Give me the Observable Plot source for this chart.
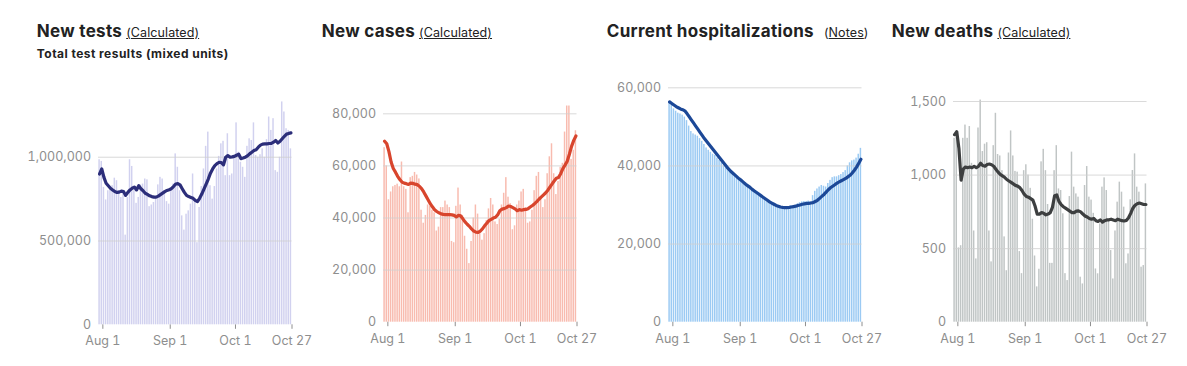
<!DOCTYPE html>
<html><head><meta charset="utf-8">
<script src="https://cdn.jsdelivr.net/npm/d3@7"></script>
<script src="https://cdn.jsdelivr.net/npm/@observablehq/plot@0.6"></script>
<style>
html,body{margin:0;padding:0;background:#fff;}
#root{position:relative;width:1187px;height:366px;overflow:hidden;font-family:Inter,"Noto Sans",sans-serif;}
.title{position:absolute;top:21px;font-weight:700;font-size:17px;letter-spacing:0.3px;line-height:20px;color:#222;white-space:nowrap;}
.note{font-weight:400;font-size:12.5px;letter-spacing:0.1px;color:#222;margin-left:4px;}
.note u{text-decoration:underline;}
.sub{position:absolute;top:47px;font-weight:700;font-size:12px;letter-spacing:0.45px;line-height:14px;color:#222;white-space:nowrap;}
.chart{position:absolute;top:0;}
</style></head><body><div id="root"></div>
<script>
// ---- data ----
const firstDate = "2020-07-31";            // first daily value
const xDomain = ["2020-07-30", "2020-10-27"];
const xTickDates = ["2020-08-01", "2020-09-01", "2020-10-01", "2020-10-27"];
const xTickLabels = ["Aug 1", "Sep 1", "Oct 1", "Oct 27"];

const titles = ["New tests", "New cases", "Current hospitalizations", "New deaths"];
const notes = ["Calculated", "Calculated", "Notes", "Calculated"];
const subtitles = ["Total test results (mixed units)", "", "", ""];

// daily values (thousands) and 7-day averages (thousands)
const testsDailyK = [985,975,820,745,800,810,830,875,860,800,760,795,535,760,985,945,800,725,760,835,840,870,865,705,715,730,760,835,880,870,800,735,720,800,840,1020,940,800,650,565,660,680,720,900,745,490,700,825,930,1065,1150,830,750,825,930,1005,1080,1095,890,1140,890,900,1010,1205,1030,970,940,880,1065,1110,1100,1205,1010,1000,1015,1050,1000,1105,1240,1160,1230,920,910,1000,1330,1270,1170,1160,1050];
const testsAvgK = [900,930,880,845,830,815,805,795,790,792,798,795,772,790,805,815,822,805,830,812,800,785,778,770,765,762,762,768,777,786,795,802,806,812,825,840,842,835,812,790,772,765,760,755,742,735,755,780,810,840,870,905,930,950,962,970,968,955,1000,1010,1000,1002,1005,1012,1018,992,995,1000,1008,1020,1030,1040,1045,1060,1072,1078,1080,1080,1082,1083,1090,1100,1085,1095,1110,1125,1138,1142,1145];

const casesDailyK = [67,60,47,50,52,52.5,53,52,61.5,52,51,42,55.5,56,57.5,56.5,55,43,38,41,45,44.5,43,42,35,36.5,44,44,46.5,45,44,31,30.5,44.5,51.5,45,41,33,28,22.5,31,40,45,41.5,35,31.5,34,39,43.5,47.5,45,38.5,37.5,39.5,45,49.5,55.5,48,45.5,35.5,37,45,46.5,50,51,44,38,38.5,43,50.5,56,57.5,48,44,47,57,63.5,68.5,57,49,54,59.5,61,73,83,83,62.5,66,73.5];
const casesAvgK = [69.5,68.5,65.5,61.5,59,57.6,56,54.8,53.8,53.4,53.2,52.9,53.4,53.3,53,52.8,52.2,51.3,50,48.5,47,45.5,44.3,43.2,42.5,42,41.6,41.4,41.3,41.3,41.3,41.2,41,40.4,41,40.8,39.7,38.5,37.6,36.8,35.8,35,34.6,34.5,35,35.8,37,38,39,39.5,40,40.3,41.2,42.8,43.4,43.6,44,44.6,44.4,44,43.5,42.8,43.2,43,43.2,43.3,43.6,44.2,44.8,45.5,46.3,47.2,48,48.8,49.6,50.6,51.8,53,54.2,55.3,55.6,57,59,60.3,61.8,64.5,67.5,69.8,71.5];

const hospDailyK = [56,55.5,54.6,54,53.5,53.3,53,52.5,51.6,50.2,48.8,48.2,47.9,47.6,47,46.3,45.5,44.6,44,43.5,43,42.7,42,41.4,40.8,40,39.5,39,38.6,38,37.5,37,36.5,36,35.5,35.1,34.8,34.3,33.8,33.4,32.9,32.5,32,31.7,31.3,31,30.9,30.5,30.2,30,29.7,29.4,29.1,28.9,28.8,29.4,29.8,29.7,29.9,30.3,30.6,30.8,30.9,30.8,31,30.8,32.4,33.5,34.1,34.6,35,34.8,34.6,35.5,36.3,37,37.2,37.2,37.5,37.8,38.3,38.8,40,40.8,41.3,41.5,42,43,44.5];
const hospAvgK = [56.4,56,55.6,55.2,54.9,54.6,54.4,54.1,53.4,52.6,51.8,51,50.2,49.4,48.6,47.8,47,46.3,45.6,44.9,44.2,43.5,42.8,42.1,41.4,40.7,40,39.3,38.7,38.2,37.7,37.2,36.7,36.3,35.8,35.3,34.9,34.5,34,33.6,33.2,32.8,32.4,32,31.6,31.2,30.8,30.5,30.2,29.9,29.7,29.5,29.4,29.35,29.35,29.4,29.5,29.6,29.7,29.9,30,30.2,30.3,30.4,30.4,30.5,30.6,30.9,31.2,31.7,32.2,32.7,33.3,33.9,34.4,34.8,35.2,35.6,35.9,36.2,36.5,36.8,37.2,37.6,38.2,38.9,39.7,40.7,41.7];

const deathsDaily = [1250,1300,505,520,1250,1340,1250,1330,1080,620,430,1320,1510,1160,1210,1220,620,410,1200,1420,1140,1130,1030,580,350,1150,1300,1130,1025,1020,480,330,1030,1070,1000,910,700,450,240,360,1090,1175,1030,800,400,400,1030,1200,906,895,737,330,283,854,1156,918,872,850,306,260,929,1058,850,830,740,362,329,668,918,981,895,690,487,294,620,816,952,884,782,397,464,832,1031,1144,918,884,374,385,940];
const deathsAvg = [1275,1295,1180,965,1040,1055,1050,1055,1050,1060,1050,1060,1080,1065,1060,1072,1075,1070,1060,1040,1020,1005,995,985,970,960,950,940,930,925,915,895,870,855,850,840,830,790,735,735,745,740,730,735,745,780,860,865,820,800,785,775,765,755,745,745,755,757,750,735,722,715,705,700,705,690,685,695,680,690,695,696,700,695,690,700,695,690,688,692,710,740,775,795,805,810,805,800,800];

const yTicks = [[0, 500000, 1000000], [0, 20000, 40000, 60000, 80000], [0, 20000, 40000, 60000], [0, 500, 1000, 1500]];

// ---- styles / layout ----
const panelLeft = [36.8, 321.8, 606.8, 891.8];
const baseline = [324.3, 321.7, 321.7, 321.7];
const topPx = [89.7, 97.7, 87.3, 92.2];
const yMax = [1400000, 86000, 60000, 1560];
const barColor = ["#d1d1ef", "#f8bbaf", "#9bcaf3", "#c0c5c5"];
const lineColor = ["#2c2e7a", "#d8452d", "#1c4897", "#3d3f40"];

const series = [
  [testsDailyK.map(v => v * 1000), testsAvgK.map(v => v * 1000)],
  [casesDailyK.map(v => v * 1000), casesAvgK.map(v => v * 1000)],
  [hospDailyK.map(v => v * 1000), hospAvgK.map(v => v * 1000)],
  [deathsDaily, deathsAvg]
];

const root = document.getElementById("root");
const parse = d3.utcParse("%Y-%m-%d");
const d0 = parse(firstDate);
const tickDates = xTickDates.map(parse);
const labelOf = new Map(tickDates.map((d, i) => [+d, xTickLabels[i]]));

const W = 260, H = 366, ML = 61, PW = 193.5;

titles.forEach((t, k) => {
  const div = document.createElement("div");
  div.className = "title";
  div.style.left = panelLeft[k] + "px";
  const noteHtml = notes[k] === "Notes"
    ? `<span class="note" style="margin-left:10px">(<u>${notes[k]}</u>)</span>`
    : `<span class="note"><u>(${notes[k]})</u></span>`;
  div.innerHTML = `${t}${noteHtml}`;
  root.appendChild(div);
  if (subtitles[k]) {
    const s = document.createElement("div");
    s.className = "sub";
    s.style.left = panelLeft[k] + "px";
    s.textContent = subtitles[k];
    root.appendChild(s);
  }

  const [daily, avg] = series[k];
  const bars = daily.map((v, i) => {
    const d = d3.utcDay.offset(d0, i);
    return {x1: d3.utcDay.offset(d, -1), x2: d, v};
  });
  const line = avg.map((v, i) => {
    const d = d3.utcDay.offset(d0, i);
    return {x: new Date(+d - 12 * 3600 * 1000), v};
  });

  const chart = Plot.plot({
    width: W, height: H,
    marginLeft: ML, marginRight: W - ML - PW,
    marginTop: topPx[k], marginBottom: H - baseline[k],
    style: {fontFamily: "Inter, 'Noto Sans', sans-serif", fontSize: "12.5px", color: "#8e8e8e", background: "transparent", overflow: "visible"},
    x: {type: "utc", domain: xDomain.map(parse), ticks: tickDates, tickFormat: d => labelOf.get(+d) ?? "", tickSize: 4.5, tickPadding: k === 0 ? 6.5 : 7, label: null},
    y: {domain: [0, yMax[k]], ticks: yTicks[k], tickFormat: d3.format(","), tickSize: 0, tickPadding: 7.5, label: null},
    marks: [
      Plot.rectY(bars, {x1: "x1", x2: "x2", y: "v", fill: barColor[k], insetLeft: 0.35, insetRight: 0.35}),
      Plot.ruleY(yTicks[k].filter(t => t > 0), {stroke: "#cfcfcf", strokeWidth: 1, strokeOpacity: 0.8}),
      Plot.line(line, {x: "x", y: "v", stroke: lineColor[k], strokeWidth: 3.2, strokeLinejoin: "round", strokeLinecap: "round"})
    ]
  });
  chart.classList.add("chart");
  chart.style.left = panelLeft[k] + "px";
  root.appendChild(chart);
});
</script></body></html>
